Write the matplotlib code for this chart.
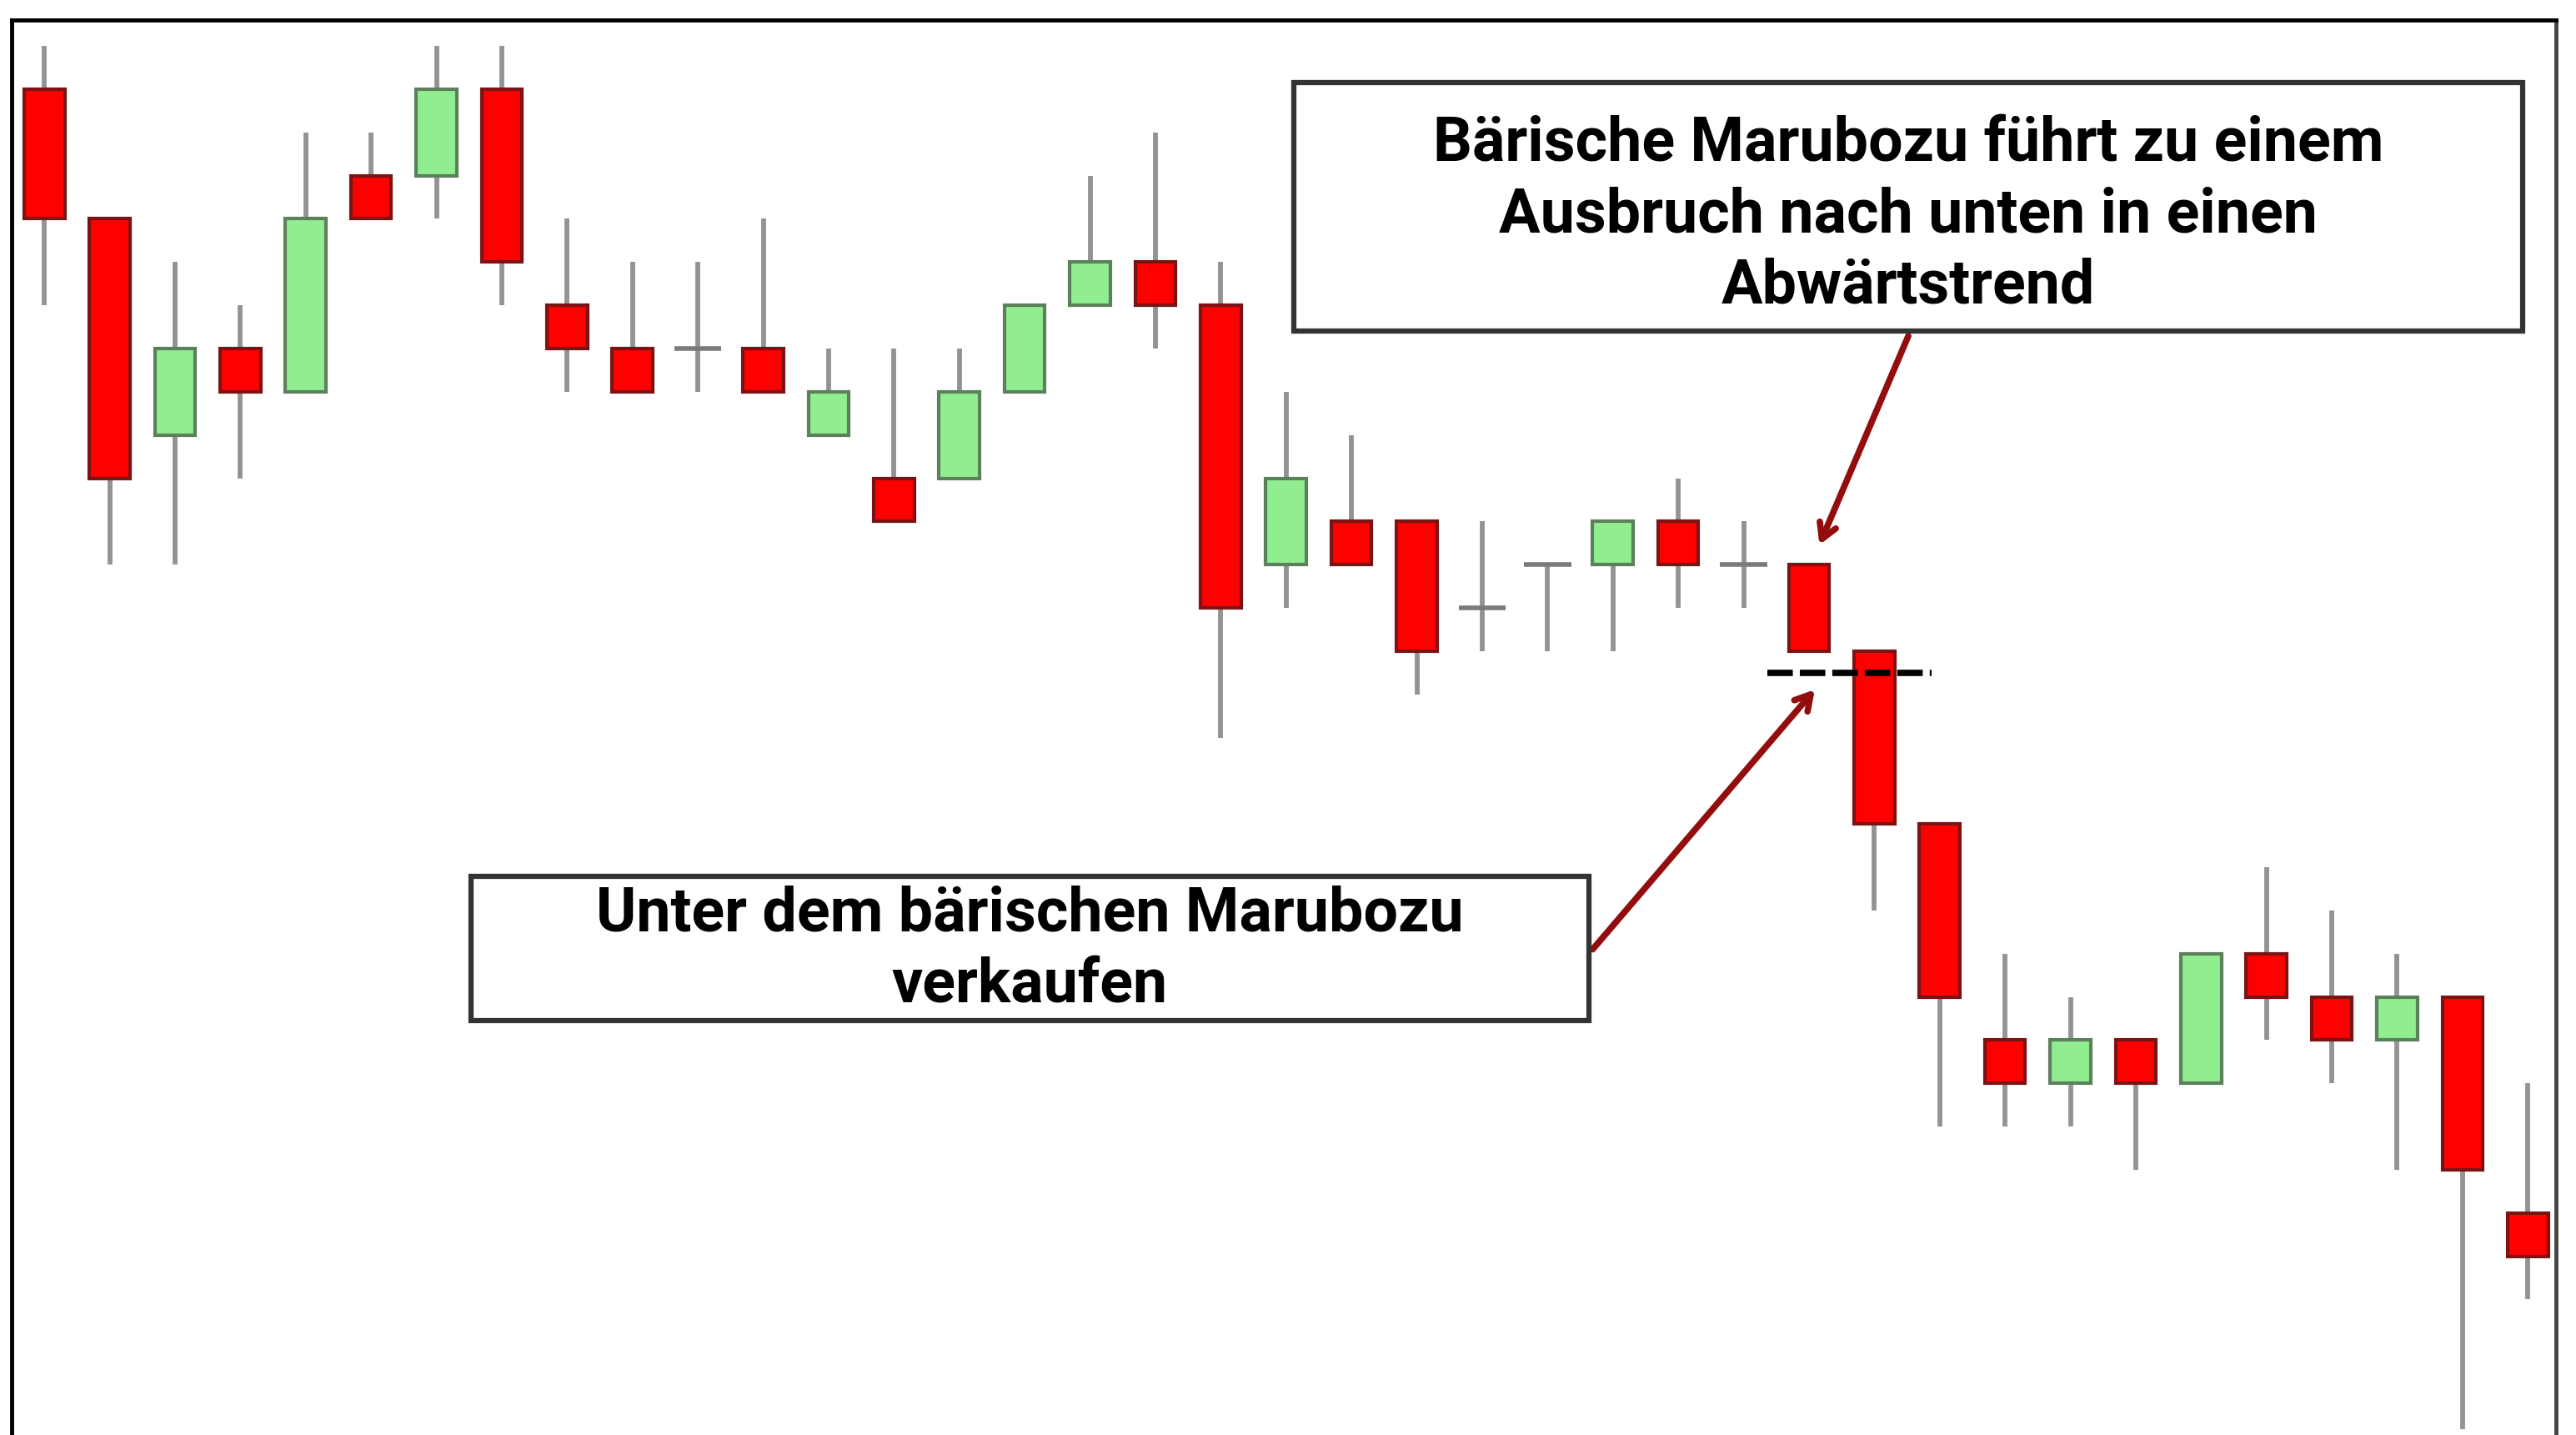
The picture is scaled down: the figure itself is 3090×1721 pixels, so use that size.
import matplotlib
matplotlib.use('Agg')
import matplotlib.pyplot as plt
from matplotlib import font_manager
from matplotlib.patches import Rectangle

# Candle data (price levels)
opens  = [31, 28, 23, 25, 24, 29, 29, 31, 26, 25, 25, 25, 23, 22, 22, 24, 26, 27, 26, 20,
          21, 21, 19, 20, 20, 21, 20, 20, 18, 14, 9, 8, 9, 8, 11, 10, 9, 10, 5]
closes = [28, 22, 25, 24, 28, 28, 31, 27, 25, 24, 25, 24, 24, 21, 24, 26, 27, 26, 19, 22,
          20, 18, 19, 20, 21, 20, 20, 18, 14, 10, 8, 9, 8, 11, 10, 9, 10, 6, 4]
highs  = [32, 28, 27, 26, 30, 30, 32, 32, 28, 27, 27, 28, 25, 25, 25, 26, 29, 30, 27, 24,
          23, 21, 21, 20, 21, 22, 21, 20, 18, 14, 11, 10, 9, 11, 13, 12, 11, 10, 8]
lows   = [26, 20, 20, 22, 24, 28, 28, 26, 24, 24, 24, 24, 23, 21, 22, 24, 26, 25, 16, 19,
          20, 17, 18, 18, 18, 19, 19, 18, 12, 7, 7, 7, 6, 8, 9, 8, 6, 0, 3]

breakout_level = 17.5  # dashed sell line under the bearish marubozu
label_top = 'Bärische Marubozu führt zu einem\nAusbruch nach unten in einen\nAbwärtstrend'
label_bottom = 'Unter dem bärischen Marubozu\nverkaufen'

# bold sans for the labels
names = {f.name for f in font_manager.fontManager.ttflist}
font, fsize = 'DejaVu Sans', 44
for cand, sz in [('Roboto', 53), ('Lato', 52)]:
    if cand in names:
        font, fsize = cand, sz
        break

fig = plt.figure(figsize=(30.9, 17.21), dpi=100)
fig.patch.set_facecolor('white')
ax = fig.add_axes([14 / 3090, 0, 3052 / 3090, 1697 / 1721])

width = 0.62
for i in range(len(opens)):
    o, c, h, l = opens[i], closes[i], highs[i], lows[i]
    ax.vlines(i, l, h, color='#939393', linewidth=4.2, zorder=1)
    if o == c:
        ax.hlines(o, i - width / 2 - 0.05, i + width / 2 + 0.05, color='#7a7a7a', linewidth=4, zorder=2)
    elif c > o:
        ax.add_patch(Rectangle((i - width / 2, o), width, c - o, facecolor='#90ee90',
                               edgecolor='#5c7f5c', linewidth=3, zorder=3))
    else:
        ax.add_patch(Rectangle((i - width / 2, c), width, o - c, facecolor='#ff0000',
                               edgecolor='#7a1414', linewidth=3, zorder=3))

# dashed breakout line
ax.hlines(breakout_level, 26.36, 28.87, color='black', linewidth=5.5, linestyles=(0, (4.0, 1.1)), zorder=4)

# arrows
arrow_kw = dict(arrowstyle='->,head_length=1.3,head_width=0.75', color='#930d0d', lw=5.5,
                shrinkA=0, shrinkB=0)
ax.annotate('', xy=(27.16, 20.46), xytext=(28.52, 25.29), arrowprops=arrow_kw, zorder=5)
ax.annotate('', xy=(27.09, 17.11), xytext=(23.69, 11.10), arrowprops=arrow_kw, zorder=5)

# text boxes
for (x0, y0, x1, y1, dy), txt in [((0.504, 0.780, 0.987, 0.956, -0.006), label_top),
                                  ((0.1805, 0.293, 0.620, 0.395, -0.001), label_bottom)]:
    ax.add_patch(Rectangle((x0, y0), x1 - x0, y1 - y0, transform=ax.transAxes,
                           facecolor='white', edgecolor='#333333', linewidth=4.5, zorder=6))
    ax.text((x0 + x1) / 2, (y0 + y1) / 2 + dy, txt, transform=ax.transAxes, ha='center', va='center',
            fontsize=fsize, fontweight='bold', family=[font, 'DejaVu Sans'],
            linespacing=1.28, color='black', zorder=7)

ax.set_xlim(-0.5, 38.43)
ax.set_ylim(-0.135, 32.6)
ax.set_xticks([])
ax.set_yticks([])
for side in ['left', 'top']:
    ax.spines[side].set_linewidth(3.5)
    ax.spines[side].set_color('black')
ax.spines['right'].set_linewidth(3.5)
ax.spines['right'].set_color('#444444')
ax.spines['bottom'].set_visible(False)

fig.savefig('out.png', dpi=100, facecolor='white')
